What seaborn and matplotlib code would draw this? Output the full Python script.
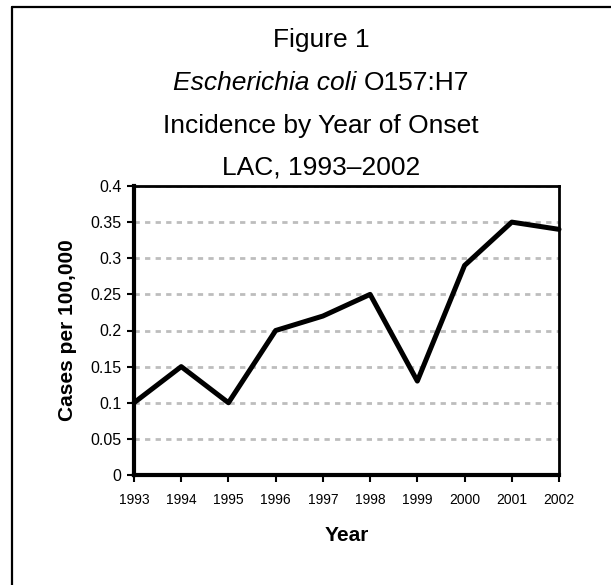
import numpy as np
import pandas as pd
import seaborn as sns
import matplotlib.pyplot as plt
from matplotlib.lines import Line2D

years = [1993, 1994, 1995, 1996, 1997, 1998, 1999, 2000, 2001, 2002]
rates = [0.10, 0.15, 0.10, 0.20, 0.22, 0.25, 0.13, 0.29, 0.35, 0.34]
y_ticks = [0, 0.05, 0.1, 0.15, 0.2, 0.25, 0.3, 0.35, 0.4]
y_tick_labels = ["0", "0.05", "0.1", "0.15", "0.2", "0.25", "0.3", "0.35", "0.4"]

df = pd.DataFrame({"Year": years, "Rate": rates})

sns.set_style("white")
plt.rcParams["font.family"] = ["Liberation Sans", "DejaVu Sans"]
plt.rcParams["text.color"] = "black"
plt.rcParams["axes.labelcolor"] = "black"

fig = plt.figure(figsize=(6.11, 5.85), dpi=100)
ax = fig.add_axes([134 / 611, 1 - 475 / 585, 425 / 611, 289 / 585])

sns.lineplot(data=df, x="Year", y="Rate", color="black", linewidth=3.6, ax=ax,
             zorder=5, clip_on=False)

ax.set_xlim(1993, 2002)
ax.set_ylim(0, 0.4)
ax.set_xticks(years)
ax.set_xticklabels([str(y) for y in years], fontsize=10)
ax.set_yticks(y_ticks)
ax.set_yticklabels(y_tick_labels, fontsize=11.5)

# dashed grey gridlines
ax.yaxis.grid(True, color="#bdbdbd", linestyle=(0, (1.9, 1.9)), linewidth=2)
ax.xaxis.grid(False)
ax.set_axisbelow(True)

for side in ["left", "bottom"]:
    ax.spines[side].set_linewidth(3)
    ax.spines[side].set_color("black")
for side in ["top", "right"]:
    ax.spines[side].set_linewidth(2)
    ax.spines[side].set_color("black")

ax.tick_params(axis="y", direction="out", length=5, width=1.5, pad=4,
               left=True, colors="black")
ax.tick_params(axis="x", direction="out", length=5, width=1.5, pad=8,
               bottom=True, colors="black")

ax.set_xlabel("Year", fontsize=15, fontweight="bold")
ax.set_ylabel("Cases per 100,000", fontsize=15, fontweight="bold")
ax.xaxis.set_label_coords(0.5, -0.175)
ax.yaxis.set_label_coords(-0.135, 0.5)

# title block, one line at a time
cx = 321 / 611
fig.text(cx, 1 - 47.5 / 585, "Figure 1", fontsize=19, ha="center", va="baseline")
fig.text(cx, 1 - 132.5 / 585, "Incidence by Year of Onset", fontsize=19,
         ha="center", va="baseline")
fig.text(cx, 1 - 174.6 / 585, "LAC, 1993\u20132002", fontsize=19,
         ha="center", va="baseline")

# second line mixes italic and upright text
r = fig.canvas.get_renderer()
t1 = fig.text(0, 1 - 90 / 585, "Escherichia coli ", fontsize=19, style="italic",
              ha="left", va="baseline")
t2 = fig.text(0, 1 - 90 / 585, "O157:H7", fontsize=19, ha="left", va="baseline")
w1 = t1.get_window_extent(r).width / fig.bbox.width
w2 = t2.get_window_extent(r).width / fig.bbox.width
x0 = cx - (w1 + w2) / 2
t1.set_x(x0)
t2.set_x(x0 + w1)

# outer frame (cut off at right and bottom)
fx = 12 / 611
fy = 1 - 7 / 585
fig.add_artist(Line2D([fx, fx], [fy, -0.1], transform=fig.transFigure,
                      color="black", linewidth=1.6))
fig.add_artist(Line2D([fx, 1.1], [fy, fy], transform=fig.transFigure,
                      color="black", linewidth=1.6))

fig.savefig("out.png", dpi=100)
